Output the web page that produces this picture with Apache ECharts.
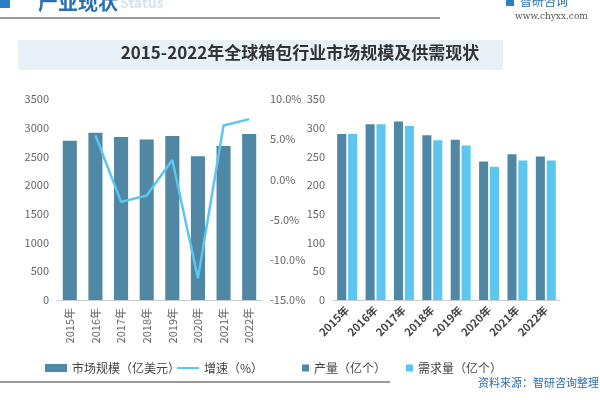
<!DOCTYPE html>
<html><head><meta charset="utf-8">
<script src="https://cdn.jsdelivr.net/npm/echarts@6/dist/echarts.min.js"></script>
<style>html,body{margin:0;padding:0;background:#fff}#c{width:600px;height:400px}</style>
</head><body><div id="c"></div>
<script>
var years=['2015年','2016年','2017年','2018年','2019年','2020年','2021年','2022年'];
var marketSize=[2774,2914,2840,2793,2856,2502,2682,2891];
var growth=[null,5.5,-2.8,-2.0,2.4,-12.3,6.7,7.5];
var production=[289,306,311,287,279,241,254,250];
var demand=[289,306,303,278,269,232,243,243];

var dark='#4f87a5', light='#5cc6ee';
var font='"Noto Sans CJK SC","Noto Sans",sans-serif';
var ax={color:'#666',fontSize:11,fontFamily:font};
var lt={color:'#444',fontSize:12,fontFamily:font};
var chart=echarts.init(document.getElementById('c'));
chart.setOption({
 backgroundColor:'#fff',
 animation:false,
 graphic:[
  {type:'rect',shape:{x:0,y:0,width:10,height:8},style:{fill:'#2a7ec2'}},
  {type:'text',left:38,top:-8,style:{text:'产业现状',fontSize:20,fill:'#2a6fb0',fontFamily:font,fontWeight:'bold'}},
  {type:'text',left:120,top:-4,style:{text:'Status',fontSize:14,fill:'#d6e4f0',fontFamily:font,fontWeight:'bold'}},
  {type:'line',shape:{x1:0,y1:18,x2:440,y2:18},style:{stroke:'#333',lineWidth:1}},
  {type:'rect',shape:{x:506,y:-2,width:8,height:8},style:{fill:'#2a7ec2'}},
  {type:'text',left:520,top:-5,style:{text:'智研咨询',fontSize:12,fill:'#2a6fb0',fontFamily:font}},
  {type:'text',left:515,top:12,style:{text:'www.chyxx.com',fontSize:9,fill:'#555',fontFamily:'DejaVu Serif'}},
  {type:'rect',shape:{x:18,y:40,width:485,height:30},style:{fill:'#e8f1f8'}},
  {type:'text',left:'center',top:44,style:{text:'2015-2022年全球箱包行业市场规模及供需现状',fontSize:17,fontWeight:'bold',fill:'#333',fontFamily:'"Noto Sans CJK SC"',textAlign:'center'}},
  {type:'line',shape:{x1:0,y1:382,x2:390,y2:382},style:{stroke:'#333',lineWidth:1}},
  {type:'text',left:478,top:377,style:{text:'资料来源：智研咨询整理',fontSize:11,fill:'#2a6fb0',fontFamily:font}}
 ],
 legend:[
  {left:40,top:357,width:160,itemWidth:22,itemHeight:8,textStyle:lt,data:[{name:'市场规模（亿美元）',icon:'rect'}]},
  {left:172,top:357,width:120,itemWidth:22,itemHeight:2,textStyle:lt,data:[{name:'增速（%）',icon:'rect'}]},
  {left:297,top:357,width:300,itemWidth:7,itemHeight:7,itemGap:20,textStyle:lt,
   data:[{name:'产量（亿个）',icon:'rect'},{name:'需求量（亿个）',icon:'rect'}]}
 ],
 grid:[{left:57,right:338,top:99,bottom:100},{left:333,right:40,top:99,bottom:100}],
 xAxis:[
  {type:'category',gridIndex:0,data:years,axisTick:{show:false},axisLine:{lineStyle:{color:'#ccc'}},axisLabel:Object.assign({rotate:90,interval:0},ax)},
  {type:'category',gridIndex:1,data:years,axisTick:{show:false},axisLine:{lineStyle:{color:'#ccc'}},axisLabel:Object.assign({},ax,{rotate:45,interval:0,fontWeight:'bold',color:'#444'})}
 ],
 yAxis:[
  {type:'value',gridIndex:0,min:0,max:3500,interval:500,splitLine:{show:false},axisLabel:Object.assign({formatter:function(v){return String(v);}},ax)},
  {type:'value',gridIndex:0,min:-15,max:10,interval:5,splitLine:{show:false},axisLabel:Object.assign({formatter:function(v){return v.toFixed(1)+'%';}},ax)},
  {type:'value',gridIndex:1,min:0,max:350,interval:50,splitLine:{show:false},axisLabel:ax}
 ],
 series:[
  {name:'市场规模（亿美元）',type:'bar',xAxisIndex:0,yAxisIndex:0,data:marketSize,barWidth:'55%',itemStyle:{color:dark}},
  {name:'增速（%）',type:'line',xAxisIndex:0,yAxisIndex:1,data:growth,symbol:'none',lineStyle:{color:light,width:2.5},itemStyle:{color:light}},
  {name:'产量（亿个）',type:'bar',xAxisIndex:1,yAxisIndex:2,data:production,barWidth:'32%',barGap:'20%',itemStyle:{color:dark}},
  {name:'需求量（亿个）',type:'bar',xAxisIndex:1,yAxisIndex:2,data:demand,barWidth:'32%',itemStyle:{color:light}}
 ]
});
</script></body></html>
